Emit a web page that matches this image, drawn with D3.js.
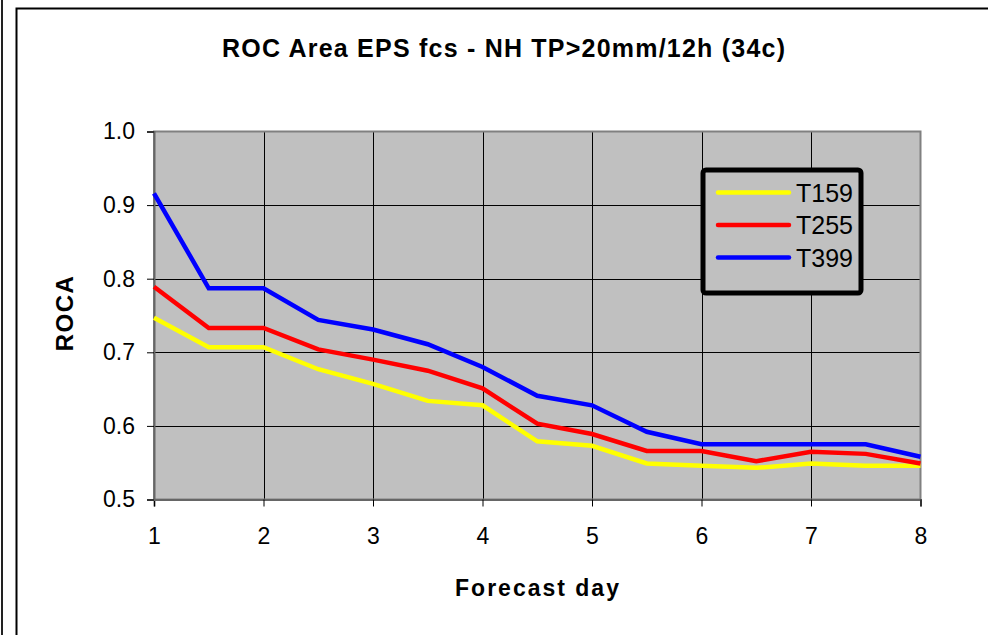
<!DOCTYPE html>
<html>
<head>
<meta charset="utf-8">
<script src="https://cdn.jsdelivr.net/npm/d3@7"></script>
<style>
  html, body { margin: 0; padding: 0; background: #fff; }
  svg { display: block; font-family: Arial, "Liberation Sans", sans-serif; }
</style>
</head>
<body>
<svg id="chart" width="988" height="635"></svg>
<script>
// Forecast days (half-day steps) and ROC area per model resolution
const days = [1, 1.5, 2, 2.5, 3, 3.5, 4, 4.5, 5, 5.5, 6, 6.5, 7, 7.5, 8];
const t159 = [0.747, 0.707, 0.707, 0.677, 0.657, 0.634, 0.628, 0.579, 0.573, 0.549, 0.546, 0.543, 0.549, 0.546, 0.546];
const t255 = [0.789, 0.733, 0.733, 0.704, 0.690, 0.675, 0.651, 0.603, 0.589, 0.566, 0.566, 0.552, 0.565, 0.562, 0.549];
const t399 = [0.916, 0.787, 0.787, 0.744, 0.731, 0.711, 0.680, 0.641, 0.628, 0.592, 0.575, 0.575, 0.575, 0.575, 0.558];
const seriesNames = ["T159", "T255", "T399"];
const seriesColors = ["#ffff00", "#ff0000", "#0000ff"];
const xTicks = [1, 2, 3, 4, 5, 6, 7, 8];
const yTicks = [0.5, 0.6, 0.7, 0.8, 0.9, 1.0];

const series = [t159, t255, t399].map((vals, i) => ({
  name: seriesNames[i], color: seriesColors[i],
  points: days.map((d, j) => ({ x: d, y: vals[j] }))
}));

const svg = d3.select("#chart");
const plot = { left: 154, right: 920.5, top: 131.5, bottom: 499.5 };

const x = d3.scaleLinear().domain([1, 8]).range([plot.left, plot.right]);
const y = d3.scaleLinear().domain([0.5, 1.0]).range([plot.bottom, plot.top]);

// outer frame
svg.append("line").attr("x1", 2).attr("x2", 2).attr("y1", 0).attr("y2", 635)
  .attr("stroke", "#222").attr("stroke-width", 2);
svg.append("rect").attr("x", 16.5).attr("y", 8.5).attr("width", 1000).attr("height", 700)
  .attr("fill", "none").attr("stroke", "#000").attr("stroke-width", 2);

// plot area
svg.append("rect")
  .attr("x", plot.left).attr("y", plot.top)
  .attr("width", plot.right - plot.left).attr("height", plot.bottom - plot.top)
  .attr("fill", "#c0c0c0");

// grid
const grid = svg.append("g").attr("stroke", "#000").attr("stroke-width", 1);
grid.selectAll(".gx").data(xTicks.slice(1, -1)).join("line")
  .attr("x1", d => Math.round(x(d)) + 0.5).attr("x2", d => Math.round(x(d)) + 0.5)
  .attr("y1", plot.top).attr("y2", plot.bottom);
grid.selectAll(".gy").data(yTicks.slice(1, -1)).join("line")
  .attr("y1", d => Math.round(y(d)) + 0.5).attr("y2", d => Math.round(y(d)) + 0.5)
  .attr("x1", plot.left).attr("x2", plot.right);

// plot border
svg.append("rect")
  .attr("x", plot.left).attr("y", plot.top)
  .attr("width", plot.right - plot.left).attr("height", plot.bottom - plot.top)
  .attr("fill", "none").attr("stroke", "#808080").attr("stroke-width", 2);

// axes
const xAxis = d3.axisBottom(x).tickValues(xTicks).tickFormat(d3.format("d")).tickSize(7).tickPadding(21);
const yAxis = d3.axisLeft(y).tickValues(yTicks).tickFormat(d3.format(".1f")).tickSize(7).tickPadding(12);

const gx = svg.append("g").attr("transform", `translate(0,${plot.bottom})`).call(xAxis);
const gy = svg.append("g").attr("transform", `translate(${plot.left},0)`).call(yAxis);
[gx, gy].forEach(g => {
  g.select(".domain").attr("stroke", "#666").attr("stroke-width", 2);
  g.selectAll(".tick line").attr("stroke", "#000");
  g.selectAll(".tick text").attr("fill", "#000").style("font-size", "23px");
});

// series lines
const line = d3.line().x(d => x(d.x)).y(d => y(d.y));
svg.append("g").selectAll("path").data(series).join("path")
  .attr("d", d => line(d.points))
  .attr("fill", "none")
  .attr("stroke", d => d.color)
  .attr("stroke-width", 4.5)
  .attr("stroke-linejoin", "miter");

// title and axis titles
svg.append("text").attr("x", 222).attr("y", 57)
  .attr("font-weight", "bold")
  .attr("textLength", 563).attr("lengthAdjust", "spacing")
  .style("font-size", "25px")
  .text("ROC Area EPS fcs - NH TP>20mm/12h (34c)");

svg.append("text").attr("x", 538).attr("y", 596)
  .attr("text-anchor", "middle").attr("font-weight", "bold")
  .style("font-size", "23px").style("letter-spacing", "2px")
  .text("Forecast day");

svg.append("text")
  .attr("transform", "translate(73,313) rotate(-90)")
  .attr("text-anchor", "middle").attr("font-weight", "bold")
  .style("font-size", "24px").style("letter-spacing", "1.5px")
  .text("ROCA");

// legend
const legend = svg.append("g");
legend.append("rect").attr("x", 703).attr("y", 170).attr("width", 158).attr("height", 123)
  .attr("rx", 3).attr("fill", "#c0c0c0").attr("stroke", "#000").attr("stroke-width", 5);
const items = legend.selectAll(".item").data(series).join("g")
  .attr("transform", (d, i) => `translate(0,${192.5 + i * 32.5})`);
items.append("line").attr("x1", 718).attr("x2", 789).attr("y1", 0).attr("y2", 0)
  .attr("stroke", d => d.color).attr("stroke-width", 4.5).attr("stroke-linecap", "round");
items.append("text").attr("x", 796).attr("y", 0).attr("dy", "0.36em")
  .style("font-size", "25px").text(d => d.name);
</script>
</body>
</html>
